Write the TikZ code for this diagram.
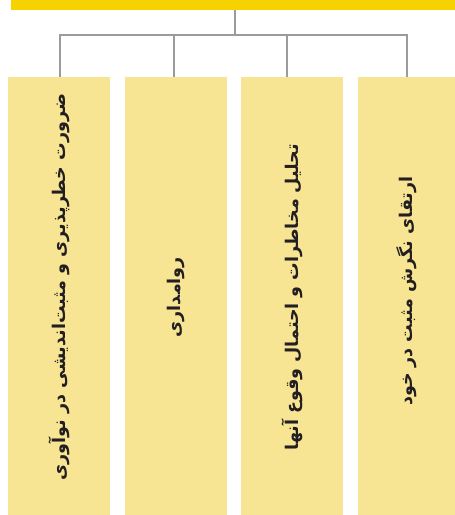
\documentclass[tikz,border=0pt]{standalone}
\usepackage{fontspec}
\newfontfamily\arabicfont[Script=Arabic]{DejaVu Sans}
\TeXXeTstate=1
\usetikzlibrary{positioning}
\definecolor{barYellow}{HTML}{F5D200}
\definecolor{boxYellow}{HTML}{F8E594}
\definecolor{lineGray}{HTML}{9B9B9D}
\definecolor{textDark}{HTML}{231F20}

\begin{document}
\begin{tikzpicture}[x=1pt, y=-1pt,
	topbar/.style={fill=barYellow, minimum width=444pt, minimum height=10pt, inner sep=0pt, anchor=north west},
	itembox/.style={fill=boxYellow, minimum height=438pt, inner sep=0pt, anchor=north west},
	itemtext/.style={rotate=90, text=textDark, inner sep=0pt, font=\arabicfont\bfseries\fontsize{17.5}{20}\selectfont},
	link/.style={draw=lineGray, line width=2pt}]

		\useasboundingbox (0,0) rectangle (455,515);

		% top bar
		\node [topbar] (top) at (11,0) {};

		% boxes
		\foreach \x/\w [count=\i] in {8/102,125/102,241/102,358/97}
			\node [itembox, minimum width=\w pt] (box-\i) at (\x,77) {};

		% texts
		\foreach \l/\d [count=\i] in {%
			{ضرورت خطرپذیری و مثبت‌اندیشی در نوآوری}/9,
			{روامداری}/-1,
			{تحلیل مخاطرات و احتمال وقوع آنها}/-1,
			{ارتقای نگرش مثبت در خود}/5}
			\node [itemtext] (text-\i) at ([yshift=\d pt]box-\i.center) {\beginR\l\endR};

		% lines from top bar to boxes
		\coordinate (hub) at (235,35);
		\draw [link] (hub |- top.south) -- (hub);
		\foreach \i/\s in {1/1,2/-2,3/-5,4/0.5}
			\draw [link] (hub) -| ([xshift=\s pt]box-\i.north);

\end{tikzpicture}
\end{document}
